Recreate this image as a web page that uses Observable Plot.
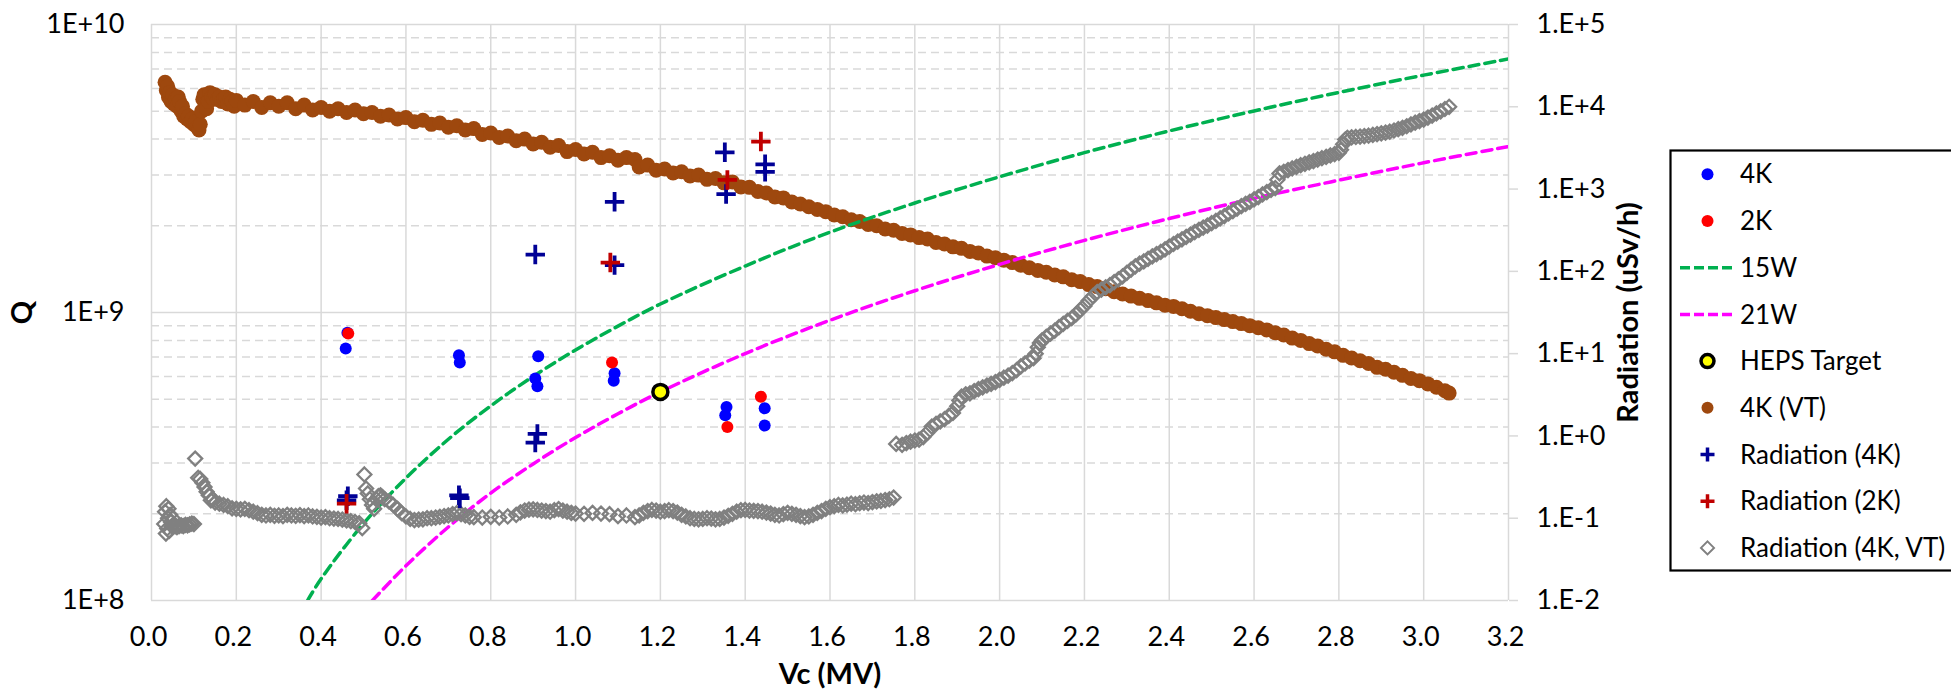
<!DOCTYPE html>
<html>
<head>
<meta charset="utf-8">
<script src="https://cdn.jsdelivr.net/npm/d3@7"></script>
<script src="https://cdn.jsdelivr.net/npm/@observablehq/plot@0.6"></script>
<style>
html, body { margin: 0; padding: 0; background: #fff; }
#wrap { position: relative; width: 1951px; height: 695px; overflow: hidden; }
#legend { position: absolute; left: 1669px; top: 149px; }
</style>
</head>
<body>
<div id="wrap"><div id="chart"></div><div id="legend"></div></div>
<script>
// ---------- axis ticks ----------
const xTickValues = [0, 0.2, 0.4, 0.6, 0.8, 1.0, 1.2, 1.4, 1.6, 1.8, 2.0, 2.2, 2.4, 2.6, 2.8, 3.0, 3.2];
const xTickLabels = ["0.0","0.2","0.4","0.6","0.8","1.0","1.2","1.4","1.6","1.8","2.0","2.2","2.4","2.6","2.8","3.0","3.2"];
const qTickValues = [1e8, 1e9, 1e10];
const qTickLabels = ["1E+8", "1E+9", "1E+10"];
const qMinorValues = [2e8,3e8,4e8,5e8,6e8,7e8,8e8,9e8,2e9,3e9,4e9,5e9,6e9,7e9,8e9,9e9];
const radTickValues = [1e-2, 1e-1, 1, 10, 100, 1e3, 1e4, 1e5];
const radTickLabels = ["1.E-2","1.E-1","1.E+0","1.E+1","1.E+2","1.E+3","1.E+4","1.E+5"];

// ---------- series (Vc MV, Q) ----------
const q4K = [[0.462,8.5e8],[0.458,7.5e8],[0.725,7.1e8],[0.727,6.7e8],[0.912,7.05e8],[0.905,5.9e8],[0.91,5.55e8],
  [1.092,6.15e8],[1.09,5.8e8],[1.356,4.7e8],[1.353,4.4e8],[1.446,4.65e8],[1.446,4.05e8]];
const q2K = [[0.464,8.45e8],[1.086,6.7e8],[1.358,4.0e8],[1.437,5.1e8]];
const p15W = [[0.368,1.0e8],[0.4,1.19e8],[0.5,1.85e8],[0.6,2.66e8],[0.7,3.63e8],[0.8,4.74e8],[0.9,6.0e8],[1.0,7.41e8],
  [1.1,8.97e8],[1.2,1.07e9],[1.4,1.45e9],[1.6,1.90e9],[1.8,2.40e9],[2.0,2.96e9],[2.2,3.59e9],[2.4,4.27e9],
  [2.6,5.01e9],[2.8,5.81e9],[3.0,6.67e9],[3.2,7.59e9]];
const p21W = [[0.521,1.0e8],[0.6,1.32e8],[0.7,1.80e8],[0.8,2.36e8],[0.9,2.98e8],[1.0,3.68e8],[1.1,4.45e8],[1.2,5.3e8],
  [1.4,7.2e8],[1.6,9.4e8],[1.8,1.19e9],[2.0,1.47e9],[2.2,1.78e9],[2.4,2.12e9],[2.6,2.49e9],[2.8,2.88e9],
  [3.0,3.31e9],[3.2,3.77e9]];
const hepsTarget = [[1.2,5.3e8]];
const q4KVT = [
  [0.032,6.3e9],[0.035,5.9e9],[0.038,6.1e9],[0.04,5.6e9],[0.043,5.8e9],[0.046,5.4e9],[0.05,5.7e9],[0.053,5.3e9],
  [0.056,5.5e9],[0.06,5.2e9],[0.063,5.6e9],[0.066,5.4e9],[0.07,5.0e9],[0.073,5.2e9],[0.076,4.8e9],[0.08,4.9e9],
  [0.084,4.7e9],[0.088,4.8e9],[0.092,4.6e9],[0.096,4.7e9],[0.10,4.5e9],[0.104,4.6e9],[0.108,4.4e9],[0.112,4.3e9],
  [0.115,4.5e9],[0.118,5.0e9],[0.121,5.5e9],[0.124,5.7e9],[0.127,5.3e9],[0.13,5.1e9],[0.134,5.4e9],[0.138,5.8e9],
  [0.142,5.6e9],[0.146,5.5e9],[0.15,5.7e9],[0.155,5.5e9],[0.16,5.6e9],[0.165,5.4e9],[0.17,5.5e9],[0.175,5.6e9],
  [0.18,5.3e9],[0.185,5.5e9],[0.19,5.4e9],[0.195,5.2e9],
  [0.20,5.45e9],[0.22,5.25e9],[0.24,5.40e9],[0.26,5.15e9],[0.28,5.35e9],[0.30,5.20e9],[0.32,5.35e9],[0.34,5.10e9],
  [0.36,5.25e9],[0.38,5.05e9],[0.40,5.15e9],[0.42,5.00e9],[0.44,5.10e9],[0.46,4.95e9],[0.48,5.05e9],[0.50,4.90e9],
  [0.52,4.95e9],[0.54,4.80e9],[0.56,4.85e9],[0.58,4.70e9],[0.60,4.75e9],[0.62,4.60e9],[0.64,4.65e9],[0.66,4.50e9],
  [0.68,4.55e9],[0.70,4.40e9],[0.72,4.45e9],[0.74,4.30e9],[0.76,4.35e9],[0.78,4.15e9],[0.80,4.20e9],[0.82,4.05e9],
  [0.84,4.10e9],[0.86,3.95e9],[0.88,4.00e9],[0.90,3.85e9],[0.92,3.90e9],[0.94,3.75e9],[0.96,3.80e9],[0.98,3.62e9],
  [1.00,3.68e9],[1.02,3.55e9],[1.04,3.60e9],[1.06,3.45e9],[1.08,3.50e9],[1.10,3.38e9],[1.12,3.45e9],[1.14,3.40e9],
  [1.15,3.20e9],[1.17,3.25e9],[1.19,3.12e9],[1.21,3.15e9],[1.23,3.05e9],[1.25,3.08e9],[1.27,2.98e9],[1.29,3.00e9],
  [1.31,2.90e9],[1.33,2.92e9],[1.35,2.82e9],[1.37,2.84e9],[1.39,2.73e9],[1.41,2.72e9],[1.43,2.63e9],[1.45,2.60e9],
  [1.47,2.52e9],[1.49,2.50e9],[1.51,2.42e9],[1.53,2.38e9],[1.55,2.33e9],[1.57,2.28e9],[1.59,2.24e9],[1.61,2.18e9],
  [1.63,2.15e9],[1.65,2.10e9],[1.67,2.07e9],[1.69,2.02e9],[1.71,2.00e9],[1.73,1.95e9],[1.75,1.93e9],[1.77,1.88e9],
  [1.79,1.86e9],[1.81,1.82e9],[1.83,1.80e9],[1.85,1.75e9],[1.87,1.73e9],[1.89,1.69e9],[1.91,1.67e9],[1.93,1.63e9],
  [1.95,1.61e9],[1.97,1.57e9],[1.99,1.55e9],[2.01,1.52e9],[2.03,1.49e9],[2.05,1.46e9],[2.07,1.43e9],[2.09,1.40e9],
  [2.11,1.38e9],[2.13,1.35e9],[2.15,1.33e9],[2.17,1.30e9],[2.19,1.28e9],[2.21,1.25e9],[2.23,1.23e9],[2.25,1.21e9],
  [2.27,1.18e9],[2.29,1.16e9],[2.31,1.14e9],[2.33,1.12e9],[2.35,1.10e9],[2.37,1.08e9],[2.39,1.06e9],[2.41,1.05e9],
  [2.43,1.03e9],[2.45,1.01e9],[2.47,9.9e8],[2.49,9.75e8],[2.51,9.6e8],[2.53,9.45e8],[2.55,9.3e8],[2.57,9.15e8],
  [2.59,9.0e8],[2.61,8.85e8],[2.63,8.7e8],[2.65,8.5e8],[2.67,8.35e8],[2.69,8.15e8],[2.71,8.0e8],[2.73,7.8e8],
  [2.75,7.65e8],[2.77,7.45e8],[2.79,7.3e8],[2.81,7.1e8],[2.83,6.95e8],[2.85,6.8e8],[2.87,6.65e8],[2.89,6.45e8],
  [2.91,6.35e8],[2.93,6.2e8],[2.95,6.05e8],[2.97,5.9e8],[2.99,5.8e8],[3.01,5.65e8],[3.03,5.5e8],[3.05,5.35e8],[3.06,5.25e8]
];

// ---------- series (Vc MV, radiation uSv/h) ----------
const rad4K = [[0.463,0.185],[0.46,0.165],[0.725,0.19],[0.727,0.175],[0.91,1.06],[0.905,0.83],[0.905,160],
  [1.092,700],[1.092,119],[1.352,2800],[1.355,870],[1.447,2000],[1.447,1620]];
const rad2K = [[0.46,0.15],[1.082,128],[1.358,1290],[1.437,3780]];
const rad4KVT = [
  [0.030,0.085],[0.032,0.12],[0.034,0.065],[0.035,0.14],[0.037,0.075],[0.039,0.10],[0.040,0.13],[0.042,0.07],
  [0.044,0.11],[0.046,0.09],[0.048,0.08],[0.050,0.1],[0.053,0.085],[0.056,0.08],[0.06,0.078],[0.065,0.08],
  [0.07,0.082],[0.075,0.08],[0.08,0.083],[0.085,0.082],[0.09,0.084],[0.095,0.086],[0.10,0.085],
  [0.103,0.53],
  [0.11,0.31],[0.115,0.30],[0.12,0.27],[0.125,0.24],[0.13,0.21],[0.135,0.19],[0.14,0.165],[0.145,0.17],[0.15,0.155],
  [0.16,0.15],[0.17,0.145],[0.18,0.14],[0.19,0.132],[0.20,0.13],[0.21,0.128],[0.22,0.13],[0.23,0.125],[0.24,0.12],
  [0.25,0.115],[0.26,0.11],[0.27,0.108],[0.28,0.11],[0.29,0.107],[0.30,0.108],[0.31,0.106],[0.32,0.11],[0.33,0.108],
  [0.34,0.107],[0.35,0.109],[0.36,0.106],[0.37,0.108],[0.38,0.105],[0.39,0.104],[0.40,0.102],[0.41,0.103],[0.42,0.1],
  [0.43,0.099],[0.44,0.098],[0.45,0.096],[0.46,0.094],[0.47,0.092],[0.48,0.09],[0.49,0.087],[0.497,0.076],
  [0.502,0.34],
  [0.506,0.23],[0.51,0.2],[0.515,0.17],[0.52,0.145],[0.525,0.13],[0.53,0.17],[0.535,0.185],[0.54,0.19],[0.545,0.18],
  [0.55,0.17],[0.56,0.16],[0.57,0.145],[0.58,0.13],[0.59,0.115],[0.60,0.105],[0.61,0.098],[0.62,0.095],[0.63,0.096],
  [0.64,0.097],[0.65,0.1],[0.66,0.1],[0.67,0.102],[0.68,0.104],[0.69,0.106],[0.70,0.108],[0.71,0.112],[0.72,0.115],
  [0.73,0.112],[0.74,0.108],[0.75,0.104],[0.76,0.103],[0.78,0.102],[0.80,0.104],[0.82,0.102],[0.84,0.105],[0.86,0.11],
  [0.87,0.118],[0.88,0.124],[0.89,0.127],[0.90,0.128],[0.91,0.126],[0.92,0.124],[0.93,0.122],[0.94,0.12],[0.95,0.125],
  [0.96,0.129],[0.97,0.124],[0.98,0.12],[0.99,0.116],[1.00,0.114],[1.02,0.113],[1.04,0.116],[1.06,0.114],[1.08,0.112],
  [1.10,0.106],[1.12,0.108],[1.14,0.103],[1.15,0.108],[1.16,0.116],[1.17,0.122],[1.18,0.126],[1.19,0.124],[1.20,0.12],
  [1.21,0.122],[1.22,0.125],[1.23,0.122],[1.24,0.117],[1.25,0.11],[1.26,0.105],[1.27,0.1],[1.28,0.098],[1.29,0.097],
  [1.30,0.098],[1.31,0.1],[1.32,0.099],[1.33,0.097],[1.34,0.098],[1.35,0.102],[1.36,0.107],[1.37,0.113],[1.38,0.12],
  [1.39,0.125],[1.40,0.126],[1.41,0.124],[1.42,0.123],[1.43,0.122],[1.44,0.12],[1.45,0.117],[1.46,0.114],[1.47,0.11],
  [1.48,0.108],[1.49,0.112],[1.50,0.116],[1.51,0.113],[1.52,0.11],[1.53,0.106],[1.54,0.103],[1.55,0.105],[1.56,0.11],
  [1.57,0.116],[1.58,0.122],[1.59,0.13],[1.60,0.136],[1.61,0.14],[1.62,0.145],[1.63,0.143],[1.64,0.146],[1.65,0.15],
  [1.66,0.148],[1.67,0.152],[1.68,0.155],[1.69,0.153],[1.70,0.157],[1.71,0.16],[1.72,0.162],[1.73,0.166],[1.74,0.17],
  [1.75,0.178],
  [1.756,0.80],[1.77,0.78],[1.78,0.82],[1.79,0.85],[1.80,0.88],[1.81,0.9],[1.82,0.97],[1.83,1.1],[1.84,1.3],[1.85,1.4],
  [1.86,1.5],[1.87,1.6],[1.88,1.75],[1.89,1.9],[1.90,2.3],[1.905,2.7],[1.91,3.0],[1.92,3.2],[1.93,3.3],[1.94,3.5],
  [1.95,3.7],[1.96,3.9],[1.97,4.1],[1.98,4.3],[1.99,4.5],[2.00,4.8],[2.01,5.1],[2.02,5.4],[2.03,5.8],[2.04,6.3],
  [2.05,7.0],[2.06,7.6],[2.07,8.2],[2.08,8.8],[2.085,10],[2.09,12],[2.095,13.5],[2.10,14.5],[2.11,16],[2.12,17.5],
  [2.13,19],[2.14,21],[2.15,23],[2.16,25],[2.17,27],[2.18,30],[2.19,34],[2.20,38],[2.21,44],[2.22,50],[2.23,56],
  [2.24,60],[2.25,64],[2.26,68],[2.27,74],[2.28,80],[2.29,87],[2.30,96],[2.31,105],[2.32,115],[2.33,124],[2.34,132],
  [2.35,142],[2.36,152],[2.37,162],[2.38,172],[2.39,185],[2.40,200],[2.41,215],[2.42,230],[2.43,245],[2.44,262],
  [2.45,280],[2.46,300],[2.47,320],[2.48,340],[2.49,360],[2.50,385],[2.51,410],[2.52,440],[2.53,470],[2.54,505],
  [2.55,540],[2.56,580],[2.57,620],[2.58,660],[2.59,700],[2.60,750],[2.61,800],[2.62,860],[2.63,920],[2.64,980],
  [2.65,1030],[2.655,1300],[2.66,1550],[2.67,1620],[2.68,1700],[2.69,1780],[2.70,1860],[2.71,1950],[2.72,2030],
  [2.73,2110],[2.74,2190],[2.75,2280],[2.76,2370],[2.77,2460],[2.78,2560],[2.79,2660],[2.80,2760],[2.805,3000],
  [2.81,3500],[2.815,4000],[2.82,4200],[2.83,4250],[2.84,4300],[2.85,4350],[2.86,4400],[2.87,4450],[2.88,4550],
  [2.89,4650],[2.90,4750],[2.91,4850],[2.92,4980],[2.93,5150],[2.94,5350],[2.95,5550],[2.96,5800],[2.97,6100],
  [2.98,6400],[2.99,6700],[3.00,7000],[3.01,7400],[3.02,7800],[3.03,8300],[3.04,8800],[3.05,9400],[3.06,10000]
];

const legendLabels = ["4K","2K","15W","21W","HEPS Target","4K (VT)","Radiation (4K)","Radiation (2K)","Radiation (4K, VT)"];

// ---------- colours ----------
const C = {
  blue: "#0000FF", red: "#FF0000", green: "#00B050", magenta: "#FF00FF", yellow: "#FFFF00",
  brown: "#9E480E", navy: "#000096", darkred: "#C00000", gray: "#808080", grid: "#D9D9D9"
};

// secondary (radiation) axis: map log range 1e-2..1e5 onto the Q range 1e8..1e10
const qMin = 1e8, qMax = 1e10, rMin = 1e-2, rMax = 1e5;
const toQ = r => qMin * Math.pow(qMax / qMin, (Math.log10(r) - Math.log10(rMin)) / (Math.log10(rMax) - Math.log10(rMin)));
const radTickQ = radTickValues.map(toQ);

const FONT = "Lato, 'Open Sans', sans-serif";
const TICK_FS = 27;

const chart = Plot.plot({
  width: 1951,
  height: 695,
  marginLeft: 151,
  marginRight: 443,
  marginTop: 24,
  marginBottom: 95,
  style: {fontFamily: FONT, fontSize: "27px", color: "#000", background: "transparent"},
  x: {domain: [0, 3.2], axis: null},
  y: {type: "log", domain: [1e8, 1e10], axis: null},
  marks: [
    Plot.ruleY(qMinorValues, {stroke: C.grid, strokeWidth: 1.5, strokeDasharray: "8,5"}),
    Plot.ruleX(xTickValues, {stroke: C.grid, strokeWidth: 1.5}),
    Plot.ruleY(qTickValues, {stroke: C.grid, strokeWidth: 1.5}),
    Plot.axisX(xTickValues, {anchor: "bottom", tickSize: 0, tickPadding: 26, dx: -3, label: null, fontSize: TICK_FS,
      tickFormat: d => xTickLabels[xTickValues.indexOf(d)]}),
    Plot.axisY(qTickValues, {anchor: "left", tickSize: 0, tickPadding: 27, label: null, fontSize: TICK_FS,
      tickFormat: d => qTickLabels[qTickValues.indexOf(d)]}),
    Plot.axisY(radTickQ, {anchor: "right", tickSize: 9, tickPadding: 19, label: null, fontSize: TICK_FS,
      stroke: C.grid, strokeWidth: 1.5, fill: "#000",
      tickFormat: d => radTickLabels[radTickQ.indexOf(d)]}),
    // titles
    Plot.text(["Q"], {frameAnchor: "left", dx: -129, rotate: -90, textAnchor: "middle", fontWeight: "bold", fontSize: 29}),
    Plot.text(["Radiation (uSv/h)"], {frameAnchor: "right", dx: 120, rotate: -90, textAnchor: "middle", fontWeight: "bold", fontSize: 29}),
    Plot.text(["Vc (MV)"], {frameAnchor: "bottom", dy: 83, textAnchor: "middle", fontWeight: "bold", fontSize: 29}),
    // Q series
    Plot.dot(q4KVT, {x: d => d[0], y: d => d[1], r: 7.5, fill: C.brown}),
    Plot.line(p15W, {x: d => d[0], y: d => d[1], stroke: C.green, strokeWidth: 3.5, strokeDasharray: "10,6", curve: "catmull-rom", clip: true}),
    Plot.line(p21W, {x: d => d[0], y: d => d[1], stroke: C.magenta, strokeWidth: 3.5, strokeDasharray: "10,6", curve: "catmull-rom", clip: true}),
    Plot.dot(q4K, {x: d => d[0], y: d => d[1], r: 6, fill: C.blue}),
    Plot.dot(q2K, {x: d => d[0], y: d => d[1], r: 6, fill: C.red}),
    Plot.dot(hepsTarget, {x: d => d[0], y: d => d[1], r: 7.5, fill: C.yellow, stroke: "#000", strokeWidth: 3.5}),
    // radiation series (secondary axis)
    Plot.dot(rad4KVT, {x: d => d[0], y: d => toQ(d[1]), r: 6.3, symbol: "diamond2", stroke: C.gray, strokeWidth: 2.3, fill: "none"}),
    Plot.dot(rad4K, {x: d => d[0], y: d => toQ(d[1]), r: 6.3, symbol: "plus", stroke: C.navy, strokeWidth: 3.8}),
    Plot.dot(rad2K, {x: d => d[0], y: d => toQ(d[1]), r: 6.3, symbol: "plus", stroke: C.darkred, strokeWidth: 3.8})
  ]
});
document.getElementById("chart").appendChild(chart);

// ---------- legend ----------
const lg = d3.select("#legend").append("svg").attr("width", 290).attr("height", 424)
  .style("font-family", FONT).style("font-size", "26px").style("display", "block");
lg.append("rect").attr("x", 1.5).attr("y", 1.5).attr("width", 320).attr("height", 420)
  .attr("fill", "#fff").attr("stroke", "#000").attr("stroke-width", 2.2);
const mx = 38.5, tx = 71;
legendLabels.forEach((label, i) => {
  const cy = 25.3 + i * 46.7;
  const g = lg.append("g");
  if (i === 0 || i === 1 || i === 5) {
    g.append("circle").attr("cx", mx).attr("cy", cy).attr("r", 6)
      .attr("fill", i === 0 ? C.blue : i === 1 ? C.red : C.brown);
  } else if (i === 2 || i === 3) {
    g.append("line").attr("x1", 11).attr("x2", 66).attr("y1", cy).attr("y2", cy)
      .attr("stroke", i === 2 ? C.green : C.magenta).attr("stroke-width", 3.5).attr("stroke-dasharray", "10,4");
  } else if (i === 4) {
    g.append("circle").attr("cx", mx).attr("cy", cy).attr("r", 6.5)
      .attr("fill", C.yellow).attr("stroke", "#000").attr("stroke-width", 3.5);
  } else if (i === 6 || i === 7) {
    g.append("path").attr("d", `M${mx - 7},${cy}H${mx + 7}M${mx},${cy - 7}V${cy + 7}`)
      .attr("stroke", i === 6 ? C.navy : C.darkred).attr("stroke-width", 3.5).attr("fill", "none");
  } else {
    g.append("path").attr("d", `M${mx},${cy - 6.5}L${mx + 6.5},${cy}L${mx},${cy + 6.5}L${mx - 6.5},${cy}Z`)
      .attr("stroke", C.gray).attr("stroke-width", 2).attr("fill", "#fff");
  }
  g.append("text").attr("x", tx).attr("y", cy).attr("dy", "0.35em").attr("fill", "#000").text(label);
});
</script>
</body>
</html>
